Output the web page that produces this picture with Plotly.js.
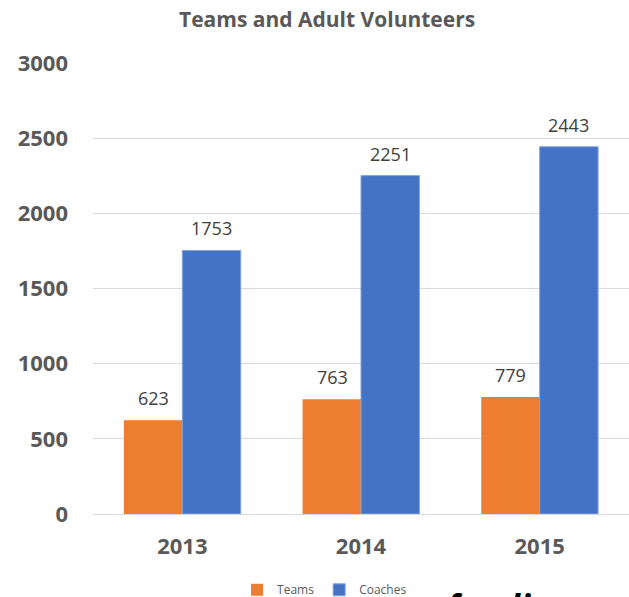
<!DOCTYPE html>
<html>
<head>
<meta charset="utf-8">
<script src="https://cdn.plot.ly/plotly-3.0.1.min.js"></script>
<style>html,body{margin:0;padding:0;background:#fff;}#chart{width:629px;height:597px;}</style>
</head>
<body>
<div id="chart"></div>
<script>
const years = ['2013', '2014', '2015'];
const teams = [623, 763, 779];
const coaches = [1753, 2251, 2443];
const yTicks = [0, 500, 1000, 1500, 2000, 2500, 3000];

const traces = [
  {type: 'bar', name: 'Teams', x: years, y: teams,
   marker: {color: '#ED7D31'}, hoverinfo: 'x+y'},
  {type: 'bar', name: 'Coaches', x: years, y: coaches,
   marker: {color: '#4472C4', line: {color: '#7FA7DE', width: 1}}, hoverinfo: 'x+y'}
];

const FONT = '"Open Sans", sans-serif';
const labelFont = {family: FONT, size: 18, color: '#404040'};
const annotations = [];
years.forEach((yr, i) => {
  annotations.push({x: i, y: teams[i], xref: 'x', yref: 'y', text: String(teams[i]),
    showarrow: false, xshift: -29, yanchor: 'bottom', yshift: 8, font: labelFont});
  annotations.push({x: i, y: coaches[i], xref: 'x', yref: 'y', text: String(coaches[i]),
    showarrow: false, xshift: 29, yanchor: 'bottom', yshift: 8, font: labelFont});
});
annotations.push({xref: 'paper', yref: 'paper', x: 0.648, y: -0.148, xanchor: 'left', yanchor: 'top',
  text: '<b><i>funding</i></b>', showarrow: false,
  font: {family: FONT, size: 34, color: '#000'}});

const layout = {
  width: 629, height: 597,
  margin: {l: 93, r: 0, t: 63, b: 83, autoexpand: false},
  paper_bgcolor: '#fff', plot_bgcolor: '#fff',
  title: {text: '<b>Teams and Adult Volunteers</b>', x: 0.52, xref: 'container', xanchor: 'center',
    y: 1 - 20/597, yref: 'container', yanchor: 'middle',
    font: {family: FONT, size: 21, color: '#595959'}},
  barmode: 'group', bargap: 0.346, bargroupgap: 0,
  xaxis: {type: 'category', range: [-0.5, 2.5], showgrid: false, showline: false, zeroline: false,
    ticks: '', ticklabelstandoff: 17,
    tickfont: {family: FONT, size: 22, color: '#595959', weight: 'bold'}},
  yaxis: {range: [0, 3000], tickvals: yTicks, ticktext: yTicks.map(String),
    showgrid: true, gridcolor: '#D9D9D9', gridwidth: 1, zeroline: true, zerolinecolor: '#D9D9D9',
    showline: false, ticks: '', ticklabelstandoff: 24,
    tickfont: {family: FONT, size: 22, color: '#595959', weight: 'bold'}},
  showlegend: true,
  legend: {orientation: 'h', x: 0.432, xanchor: 'center', y: -0.168, yanchor: 'middle',
    font: {family: FONT, size: 12, color: '#595959'}, itemwidth: 30, tracegroupgap: 0},
  annotations: annotations
};

Plotly.newPlot('chart', traces, layout, {displayModeBar: false, staticPlot: true});
</script>
</body>
</html>
